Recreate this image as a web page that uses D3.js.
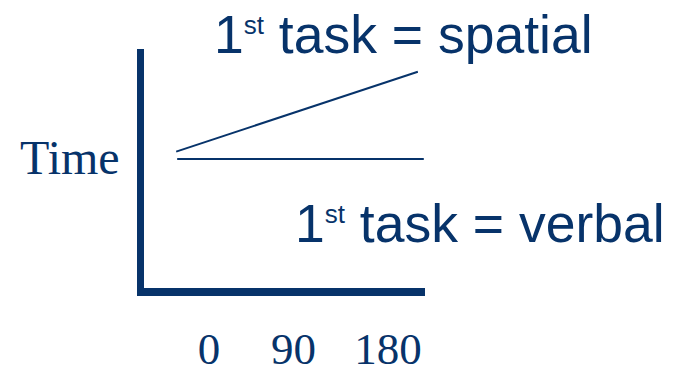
<!DOCTYPE html>
<html>
<head>
<meta charset="utf-8">
<script src="https://cdn.jsdelivr.net/npm/d3@7"></script>
<style>
  html, body { margin: 0; padding: 0; background: #fff; }
  svg { display: block; }
</style>
</head>
<body>
<script>
// Rotation angle (degrees) labels shown under the x axis
const angleTicks = [0, 90, 180];
// Schematic response-time lines (arbitrary time units, 0-100)
const spatialAngles = [-33, 210];
const spatialTimes = [58, 91];
const verbalAngles = [-32, 216];
const verbalTimes = [55, 55];
const yAxisTitle = "Time";
const seriesNames = ["spatial", "verbal"];

const W = 682, H = 373;
const ink = "#07336a";

const svg = d3.select("body").append("svg")
  .attr("width", W).attr("height", H);

const x = d3.scaleLinear().domain([0, 180]).range([209, 388]);
const y = d3.scaleLinear().domain([0, 100]).range([292, 50]);

// Axis frame
const frameLeft = 140.5, frameRight = 425, frameTop = 49, frameBottom = 292;
svg.append("line")
  .attr("x1", frameLeft).attr("x2", frameLeft)
  .attr("y1", frameTop).attr("y2", frameBottom + 4)
  .attr("stroke", ink).attr("stroke-width", 7);
svg.append("line")
  .attr("x1", frameLeft - 3.5).attr("x2", frameRight)
  .attr("y1", frameBottom).attr("y2", frameBottom)
  .attr("stroke", ink).attr("stroke-width", 8);

// Tick labels
svg.append("g")
  .selectAll("text")
  .data(angleTicks)
  .join("text")
  .attr("x", d => x(d) - (d === 90 ? 5 : 0))
  .attr("y", 364)
  .attr("text-anchor", "middle")
  .attr("font-family", "'Liberation Serif', 'Times New Roman', serif")
  .attr("font-size", 45)
  .attr("fill", ink)
  .text(d => d);

// Y axis title
svg.append("text")
  .attr("x", 20).attr("y", 174)
  .attr("font-family", "'Liberation Serif', 'Times New Roman', serif")
  .attr("font-size", 48)
  .attr("fill", ink)
  .text(yAxisTitle);

// Lines
const line = d3.line().x(d => x(d[0])).y(d => y(d[1]));
const series = [
  d3.zip(spatialAngles, spatialTimes),
  d3.zip(verbalAngles, verbalTimes)
];
svg.append("g")
  .selectAll("path")
  .data(series)
  .join("path")
  .attr("d", line)
  .attr("fill", "none")
  .attr("stroke", ink)
  .attr("stroke-width", 2);

// Series labels: "1st task = ..."
const labelPos = [[214, 53], [295, 242]];
seriesNames.forEach((name, i) => {
  const t = svg.append("text")
    .attr("x", labelPos[i][0]).attr("y", labelPos[i][1])
    .attr("font-family", "'Liberation Sans', Arial, sans-serif")
    .attr("font-size", 53.5)
    .attr("fill", ink);
  t.append("tspan").text("1");
  t.append("tspan").attr("font-size", 26).attr("dy", -19).text("st");
  t.append("tspan").attr("dy", 19).text(" task = " + name);
});
</script>
</body>
</html>
